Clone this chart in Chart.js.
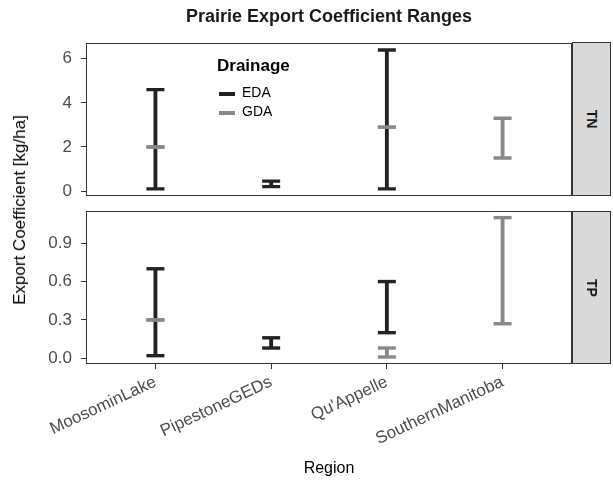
<!DOCTYPE html>
<html><head><meta charset="utf-8">
<script src="https://cdn.jsdelivr.net/npm/chart.js@4.4.0/dist/chart.umd.min.js"></script>
<style>
body{margin:0;background:#fff;width:613px;height:481px;overflow:hidden;position:relative;font-family:'Liberation Sans',Arial,sans-serif;}
.abs{position:absolute;white-space:nowrap;}
canvas{position:absolute;left:0;}
#title{left:86px;width:486px;top:6px;text-align:center;font-weight:bold;font-size:18px;color:#1a1a1a;}
#ytitle{left:20px;top:210px;transform:translate(-50%,-50%) rotate(-90deg);font-size:17px;color:#000;}
#xtitle{left:329px;top:468px;transform:translate(-50%,-50%);font-size:16px;color:#000;}
.strip{left:572px;width:39px;background:#d9d9d9;border:1px solid #333;box-sizing:border-box;}
.strip span{position:absolute;left:50%;top:50%;transform:translate(-50%,-50%) rotate(90deg);font-weight:bold;font-size:14px;color:#1a1a1a;}
#legend{left:217px;top:56px;}
#legend .lt{font-weight:bold;font-size:17px;color:#000;line-height:20px;}
#legend .it{position:relative;height:19px;font-size:14px;color:#000;}
#legend .it i{position:absolute;left:2px;top:8px;width:16px;height:3.5px;}
#legend .it b{position:absolute;left:25px;top:0px;font-weight:normal;}
</style></head>
<body>
<canvas id="c1" width="613" height="215" style="top:0px;width:613px;height:215px"></canvas>
<canvas id="c2" width="613" height="290" style="top:191px;width:613px;height:290px"></canvas>
<div class="abs" id="title">Prairie Export Coefficient Ranges</div>
<div class="abs" id="ytitle">Export Coefficient [kg/ha]</div>
<div class="abs" id="xtitle">Region</div>
<div class="abs strip" style="top:42px;height:154px"><span>TN</span></div>
<div class="abs strip" style="top:211px;height:153px"><span>TP</span></div>
<div class="abs" id="legend">
  <div class="lt">Drainage</div>
  <div class="it" style="margin-top:8px"><i style="background:#222222"></i><b>EDA</b></div>
  <div class="it"><i style="background:#888888"></i><b>GDA</b></div>
</div>
<script>
const categories = ['MoosominLake', 'PipestoneGEDs', "Qu'Appelle", 'SouthernManitoba'];
const seriesNames = ['EDA', 'GDA'];
// TN (kg/ha)
const tnEdaLow  = [0.1, 0.2, 0.1, null];
const tnEdaHigh = [4.6, 0.45, 6.4, null];
const tnGdaLow  = [2.0, null, 2.9, 1.5];
const tnGdaHigh = [2.0, null, 2.9, 3.3];
// TP (kg/ha)
const tpEdaLow  = [0.02, 0.08, 0.2, null];
const tpEdaHigh = [0.7, 0.16, 0.6, null];
const tpGdaLow  = [0.3, null, 0.01, 0.27];
const tpGdaHigh = [0.3, null, 0.08, 1.1];
// tick labels
const tnTicks = [0, 2, 4, 6];
const tpTicks = [0.0, 0.3, 0.6, 0.9];

const colors = {EDA: '#222222', GDA: '#888888'};
Chart.defaults.font.family = "'Liberation Sans', Arial, sans-serif";
Chart.defaults.animation = false;

function rangeData(lo, hi) {
  const out = [];
  lo.forEach((v, i) => { if (v !== null) out.push({x: i, y: [v, hi[i]]}); });
  return out;
}
function capData(lo, hi) {
  const out = [];
  lo.forEach((v, i) => { if (v !== null) { out.push({x: i, y: v}); out.push({x: i, y: hi[i]}); } });
  return out;
}
function datasets(eLo, eHi, gLo, gHi) {
  const ds = [];
  [[eLo, eHi, 'EDA', 4], [gLo, gHi, 'GDA', 2]].forEach(([lo, hi, name, ord]) => {
    ds.push({type: 'bar', label: name, data: rangeData(lo, hi), backgroundColor: colors[name],
      barThickness: 3.2, borderWidth: 0, order: ord, grouped: false});
    ds.push({type: 'line', label: name + ' caps', data: capData(lo, hi), showLine: false,
      pointStyle: 'line', pointRadius: 9, pointHoverRadius: 9, pointBorderWidth: 3.4,
      pointBorderColor: colors[name], borderColor: colors[name], order: ord - 1});
  });
  return ds;
}
const borderPlugin = {
  id: 'panelBorder',
  afterDraw(chart) {
    const a = chart.chartArea, ctx = chart.ctx;
    ctx.save(); ctx.strokeStyle = '#333333'; ctx.lineWidth = 1;
    ctx.strokeRect(Math.round(a.left) + 0.5, Math.round(a.top) + 0.5,
      Math.round(a.right - a.left) - 1, Math.round(a.bottom - a.top) - 1);
    ctx.restore();
  }
};
function makeChart(id, ds, yMin, yMax, yTicks, fmt, showX, pad, xHeight) {
  return new Chart(document.getElementById(id), {
    type: 'bar',
    data: {datasets: ds},
    options: {
      responsive: false, maintainAspectRatio: false,
      layout: {padding: pad},
      plugins: {legend: {display: false}, tooltip: {enabled: false}},
      scales: {
        x: {type: 'linear', min: -0.6, max: 3.6, offset: false, display: showX,
          afterBuildTicks: s => { s.ticks = categories.map((c, i) => ({value: i})); },
          afterFit: s => { if (showX) s.height = xHeight; },
          grid: {offset: false, drawOnChartArea: false, drawTicks: true, tickLength: 5, color: '#333333', lineWidth: 1},
          border: {display: false},
          ticks: {autoSkip: false, maxRotation: 25, minRotation: 25, padding: 3, color: '#4d4d4d',
            font: {size: 17}, callback: v => categories[v]}
        },
        y: {type: 'linear', min: yMin, max: yMax,
          afterBuildTicks: s => { s.ticks = yTicks.map(v => ({value: v})); },
          afterFit: s => { s.width = 86; },
          grid: {drawOnChartArea: false, drawTicks: true, tickLength: 5, color: '#333333', lineWidth: 1},
          border: {display: false},
          ticks: {padding: 9, color: '#4d4d4d', font: {size: 17}, callback: fmt}
        }
      }
    },
    plugins: [borderPlugin]
  });
}
makeChart('c1', datasets(tnEdaLow, tnEdaHigh, tnGdaLow, tnGdaHigh), -0.215, 6.715, tnTicks,
  v => String(v), false, {left: 0, right: 41, top: 43, bottom: 19}, 0);
makeChart('c2', datasets(tpEdaLow, tpEdaHigh, tpGdaLow, tpGdaHigh), -0.045, 1.152, tpTicks,
  v => v.toFixed(1), true, {left: 0, right: 41, top: 20, bottom: 0}, 117);
</script>
</body></html>
